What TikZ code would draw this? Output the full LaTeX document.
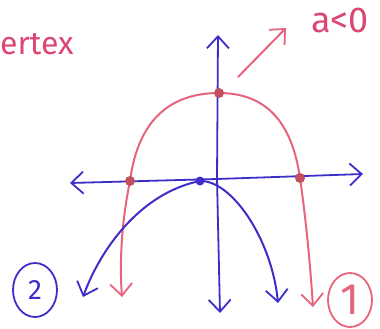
\documentclass[tikz,border=0pt]{standalone}
\usepackage{fontspec}
\setmainfont{Fira Sans}
\usetikzlibrary{arrows.meta,shapes.geometric}
\definecolor{pen}{RGB}{62,46,200}
\definecolor{redc}{RGB}{230,100,125}
\definecolor{pinkt}{RGB}{220,70,115}
\definecolor{dotr}{RGB}{195,80,95}
\tikzset{
  barb/.tip={Straight Barb[length=12pt,width=22pt,line width=1.8pt]},
  axis/.style={pen, line width=1.8pt, line cap=round, -barb},
  bluecurve/.style={pen, line width=2pt, line cap=round, barb-barb},
  redcurve/.style={redc, line width=2pt, line cap=round, barb-barb},
  redarrow/.style={redc, line width=2pt, line cap=round, -barb},
  rdot/.style={circle, fill=dotr, inner sep=0pt, minimum size=10pt},
  bdot/.style={circle, fill=pen, inner sep=0pt, minimum size=9pt},
  lbl/.style={inner sep=0pt},
}
\begin{document}
\begin{tikzpicture}[x=1pt,y=-1pt]
\useasboundingbox (0,0) rectangle (380,329);
% axes
\coordinate (o) at (217,179);
\coordinate (ytop) at (218,35);
\coordinate (ybot) at (220,313);
\coordinate (xl) at (70,183);
\coordinate (xr) at (363,174);
\draw[axis] (o) -- (ytop);
\draw[axis] (o) -- (ybot);
\draw[axis] (o) -- (xl);
\draw[axis] (o) -- (xr);
% red parabola
\coordinate (rv) at (219,93);
\coordinate (rl) at (130,181);
\coordinate (rr) at (300,178);
\coordinate (rlt) at (122,297);
\coordinate (rrt) at (313,307);
\draw[redcurve] (rlt) .. controls (119,255) and (123,215) .. (rl)
  .. controls (136,135) and (158,93) .. (rv)
  .. controls (272,93) and (293,130) .. (rr)
  .. controls (306,220) and (310,262) .. (rrt);
\node[rdot] (rvd) at (rv) {};
\node[rdot] (rld) at (rl) {};
\node[rdot] (rrd) at (rr) {};
% blue parabola
\coordinate (bv) at (200,181);
\coordinate (blt) at (83,297);
\coordinate (brt) at (278,303);
\draw[bluecurve] (blt) .. controls (100,250) and (140,193) .. (bv)
  .. controls (232,180) and (272,240) .. (brt);
\node[bdot] (bvd) at (bv) {};
% labels
\node[lbl, anchor=west, text=pinkt, font=\fontsize{32}{32}\selectfont] (vx) at (0,44) {ertex};
\node[lbl, text=pinkt, font=\fontsize{36}{36}\selectfont] (alab) at (340,20) {a<0};
\coordinate (as) at (238,77);
\coordinate (ae) at (286,28);
\draw[redarrow] (as) -- (ae);
\node[draw=pen, line width=1.8pt, ellipse, minimum width=44pt, minimum height=54pt, inner sep=0pt, text=pen, font=\fontsize{28}{28}\selectfont] (c2) at (35,290) {2};
\node[draw=redc, line width=1.8pt, ellipse, minimum width=44pt, minimum height=54pt, text=redc, font=\fontsize{44}{44}\selectfont, inner sep=0pt] (c1) at (350,300) {1};
\end{tikzpicture}
\end{document}
